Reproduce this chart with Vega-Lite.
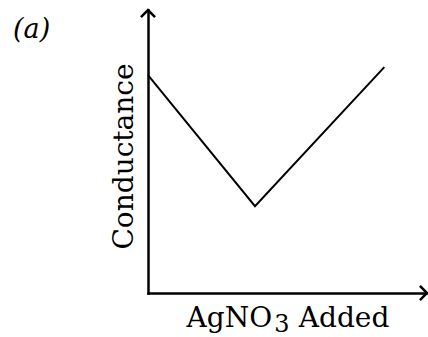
{
  "$schema": "https://vega.github.io/schema/vega-lite/v6.json",
  "width": 279,
  "height": 283,
  "autosize": {"type": "none"},
  "padding": {"left": 148, "top": 10, "right": 1, "bottom": 44},
  "background": "white",
  "config": {"view": {"stroke": null}, "font": "DejaVu Serif"},
  "title": {
    "text": "(a)",
    "anchor": "start",
    "frame": "group",
    "orient": "top",
    "font": "DejaVu Serif",
    "fontStyle": "italic",
    "fontWeight": "normal",
    "fontSize": 27,
    "color": "black",
    "baseline": "alphabetic",
    "offset": 0,
    "dx": -135,
    "dy": 60
  },
  "layer": [
    {
      "data": {"values": [
        {"x": 0, "y": 7.7},
        {"x": 3.835, "y": 3.07},
        {"x": 8.47, "y": 7.98}
      ]},
      "mark": {"type": "line", "color": "black", "strokeWidth": 2},
      "encoding": {
        "x": {
          "field": "x", "type": "quantitative",
          "scale": {"domain": [0, 10], "nice": false},
          "axis": {
            "title": "AgNO\u00a0\u00a0\u00a0Added",
            "domain": true, "domainColor": "black", "domainWidth": 2.5, "domainCap": "square",
            "ticks": false, "grid": false,
            "values": [4.78],
            "labelExpr": "'3'",
            "labelFont": "DejaVu Serif", "labelFontSize": 24, "labelColor": "black",
            "labelBaseline": "alphabetic", "labelPadding": 38, "labelAlign": "center",
            "labelOverlap": false,
            "titleFont": "DejaVu Serif", "titleFontSize": 28, "titleFontWeight": "normal",
            "titleColor": "black", "titleBaseline": "alphabetic", "titlePadding": 33,
            "titleX": 38, "titleAlign": "left", "titleY": 33
          }
        },
        "y": {
          "field": "y", "type": "quantitative",
          "scale": {"domain": [0, 10], "nice": false},
          "axis": {
            "title": "Conductance",
            "domain": true, "domainColor": "black", "domainWidth": 2.5, "domainCap": "square",
            "ticks": false, "labels": false, "grid": false,
            "titleFont": "DejaVu Serif", "titleFontSize": 28, "titleFontWeight": "normal",
            "titleColor": "black", "titleBaseline": "alphabetic", "titlePadding": 16,
            "titleY": 146
          }
        }
      }
    },
    {
      "data": {"values": [
        {"x": 0, "y": 10, "dir": "up"},
        {"x": 10, "y": 0, "dir": "right"}
      ]},
      "mark": {"type": "point", "filled": false, "stroke": "black", "strokeWidth": 2.5, "size": 200, "opacity": 1},
      "encoding": {
        "x": {"field": "x", "type": "quantitative"},
        "y": {"field": "y", "type": "quantitative"},
        "shape": {
          "field": "dir", "type": "nominal",
          "scale": {"domain": ["up", "right"], "range": ["M-1,1L0,0L1,1", "M-1,-1L0,0L-1,1"]},
          "legend": null
        }
      }
    }
  ]
}
